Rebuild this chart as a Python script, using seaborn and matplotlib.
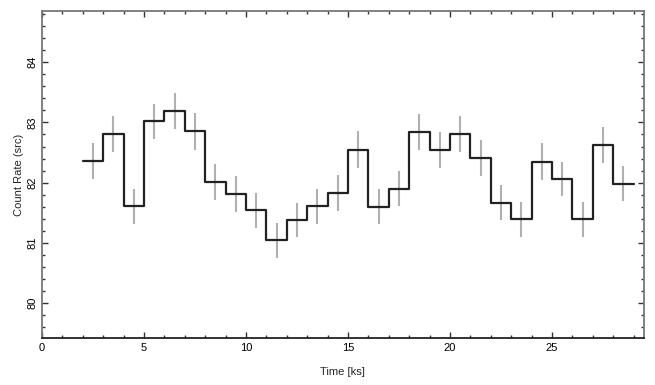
import numpy as np
import pandas as pd
import matplotlib
matplotlib.use("Agg")
import matplotlib.pyplot as plt
from matplotlib.ticker import MultipleLocator
import seaborn as sns

bin_start = [2, 3, 4, 5, 6, 7, 8, 9, 10, 11, 12, 13, 14, 15, 16, 17, 18, 19, 20,
             21, 22, 23, 24, 25, 26, 27, 28]
bin_width = 1.0
rate = [82.36, 82.81, 81.61, 83.02, 83.19, 82.85, 82.01, 81.81, 81.54, 81.04,
        81.38, 81.61, 81.83, 82.55, 81.60, 81.90, 82.84, 82.54, 82.81, 82.41,
        81.67, 81.39, 82.35, 82.06, 81.39, 82.62, 81.98]
rate_err = [0.30, 0.30, 0.29, 0.29, 0.30, 0.30, 0.30, 0.30, 0.29, 0.29,
            0.29, 0.29, 0.30, 0.30, 0.29, 0.29, 0.30, 0.30, 0.30, 0.30,
            0.29, 0.29, 0.30, 0.29, 0.29, 0.30, 0.29]

sns.set_theme(style="white")
plt.rcParams['font.family'] = ['Liberation Sans', 'DejaVu Sans']

fig = plt.figure(figsize=(6.55, 3.85), dpi=100)
ax = fig.add_axes([0.0641, 0.1221, 0.983 - 0.0641, 0.9714 - 0.1221])

edges = list(bin_start) + [bin_start[-1] + bin_width]
step_vals = list(rate) + [rate[-1]]
df_step = pd.DataFrame({"t": edges, "r": step_vals})
centers = [b + bin_width / 2 for b in bin_start]

ax.errorbar(centers, rate, yerr=rate_err, fmt='none', ecolor='#b0b0b0',
            elinewidth=1.5, capsize=0, zorder=2)
sns.lineplot(data=df_step, x="t", y="r", drawstyle='steps-post', color='#222222',
             linewidth=1.6, ax=ax, zorder=3, estimator=None, sort=False)

ax.set_xlim(0, 29.5)
ax.set_ylim(79.42, 84.85)
ax.xaxis.set_major_locator(MultipleLocator(5))
ax.xaxis.set_minor_locator(MultipleLocator(1))
ax.yaxis.set_major_locator(MultipleLocator(1))
ax.yaxis.set_minor_locator(MultipleLocator(0.2))

ax.tick_params(which='both', direction='in', top=True, right=True,
               bottom=True, left=True, colors='#333333', labelcolor='black',
               labelsize=8)
ax.tick_params(which='major', length=4, width=1)
ax.tick_params(which='minor', length=2.5, width=1)
for lbl in ax.get_yticklabels():
    lbl.set_rotation(90)
    lbl.set_va('center')

for s in ['left', 'right', 'top']:
    ax.spines[s].set_color('#777777')
    ax.spines[s].set_linewidth(1.3)
ax.spines['bottom'].set_color('#222222')
ax.spines['bottom'].set_linewidth(1.3)

ax.set_xlabel("Time [ks]", fontsize=8, labelpad=10)
ax.set_ylabel("Count Rate (src)", fontsize=8, labelpad=2)

fig.savefig("out.png", dpi=100)
